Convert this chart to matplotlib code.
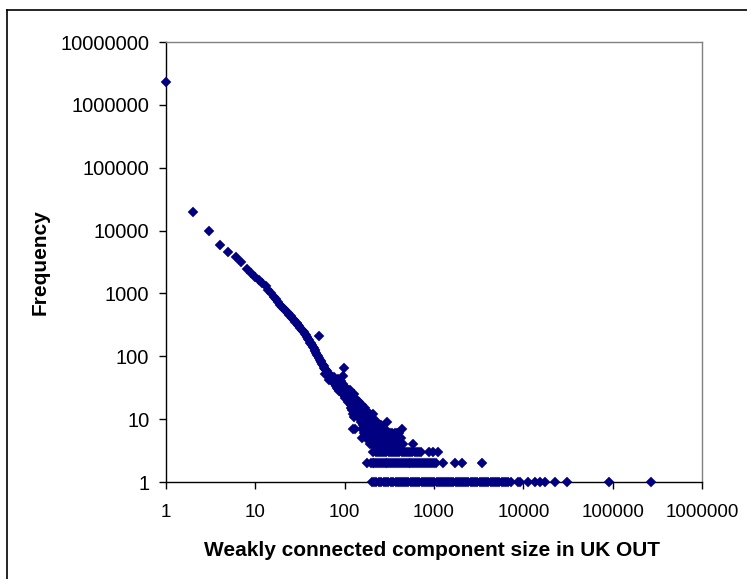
import matplotlib
matplotlib.use("Agg")
import matplotlib.pyplot as plt
from matplotlib.lines import Line2D

# component sizes 1..130, one frequency each
curve_freq = [
    2300000, 20000, 10000, 6000, 4500, 3800, 3200, 2450, 2100, 1850,
    1650, 1450, 1300, 1150, 1000, 880, 820, 720, 660, 610,
    560, 520, 490, 450, 430, 400, 375, 355, 335, 320,
    300, 285, 265, 255, 240, 230, 215, 205, 190, 180,
    165, 160, 150, 140, 135, 126, 120, 112, 105, 100,
    95, 212, 88, 84, 80, 76, 72, 69, 66, 53,
    63, 60, 58, 56, 54, 42, 52, 50, 48, 46,
    45, 44, 42, 40, 47, 38, 37, 36, 35, 34,
    40, 31, 35, 30, 44, 33, 28, 38, 30, 35,
    27, 41, 29, 26, 36, 30, 49, 66, 24, 28,
    32, 22, 27, 25, 30, 21, 26, 24, 19, 28,
    23, 20, 26, 18, 22, 29, 17, 21, 15, 19,
    14, 18, 16, 12, 20, 13, 17, 11, 15, 16,
]
curve_size = list(range(1, len(curve_freq) + 1))

# scattered blob between ~110 and ~450
blob_size = [112, 118, 124, 108, 115, 121, 128,
             125, 131, 136, 140, 146, 133, 141, 150, 158,
             140, 150, 162, 170, 135, 145, 155, 165, 180, 128, 138, 148, 157, 168,
             142, 152, 160, 175, 190, 205, 147, 157, 172, 185, 200,
             149, 160, 170, 182, 196, 210, 152, 165, 178, 190, 205, 220, 232, 297,
             160, 172, 185, 198, 212, 226, 240, 252,
             155, 168, 180, 195, 210, 225, 240, 256, 270, 282, 435,
             165, 178, 192, 206, 220, 235, 250, 266, 283, 300, 320, 340, 362, 385, 405,
             158, 172, 186, 200, 215, 230, 246, 262, 280, 298, 318, 338, 360, 383, 408, 425]
blob_freq = [22, 22, 22, 25, 25, 25, 25,
             7, 7, 20, 19, 19, 17, 17, 17, 17,
             15, 15, 15, 15, 13, 13, 13, 13, 13, 14, 14, 14, 14, 14,
             12, 12, 12, 12, 12, 12, 11, 11, 11, 11, 11,
             10, 10, 10, 10, 10, 10, 9, 9, 9, 9, 9, 9, 9, 9,
             8, 8, 8, 8, 8, 8, 8, 8,
             7, 7, 7, 7, 7, 7, 7, 7, 7, 7, 7,
             6, 6, 6, 6, 6, 6, 6, 6, 6, 6, 6, 6, 6, 6, 6,
             5, 5, 5, 5, 5, 5, 5, 5, 5, 5, 5, 5, 5, 5, 5, 5]

# horizontal rows of sizes seen with frequency 4, 3, 2 and 1
row4_size = [192, 203, 215, 228, 241, 255, 270, 286, 303, 321, 340, 360, 381,
             404, 428, 452, 580]
row3_size = [210, 222, 235, 248, 262, 277, 293, 310, 328, 347, 367, 388, 410,
             434, 459, 485, 513, 543, 574, 607, 642, 680, 720, 870, 970, 1120]
row2_size = [177, 196, 205, 214, 225, 236, 248, 260, 273, 287, 301, 316, 332,
             349, 367, 386, 405, 425, 447, 470, 494, 519, 545, 573, 602, 633,
             665, 699, 735, 772, 812, 853, 897, 942, 990, 1040, 1275, 1740,
             2040, 3430]
row1_size = [200, 212, 226, 241, 258, 273, 290, 309, 331, 348, 372, 391, 416,
             438, 467, 492, 518, 553, 581, 613, 652, 688, 731, 772, 812, 862,
             908, 962, 1012, 1068, 1133, 1187, 1262, 1328, 1403, 1478, 1562,
             1648, 1742, 1845, 1948, 2062, 2178, 2305, 2428, 2574, 2716, 2883,
             3046, 3231, 3418, 3624, 3826, 4063, 4297, 4551, 4818, 5102, 5396,
             5724, 6047, 6402, 6811, 7210, 8700, 9200, 11400, 13500, 15400,
             17500, 22800, 30700, 90000, 272000]

x_ticks = [1, 10, 100, 1000, 10000, 100000, 1000000]
y_ticks = [1, 10, 100, 1000, 10000, 100000, 1000000, 10000000]

plt.rcParams['font.family'] = ['Liberation Sans', 'DejaVu Sans']

W, H = 747, 579
fig = plt.figure(figsize=(W / 100, H / 100), dpi=100)
ax = fig.add_axes([166 / W, 1 - 482 / H, (702 - 166) / W, (482 - 42) / H])

navy = '#000080'
sizes = (curve_size + blob_size + row4_size + row3_size + row2_size + row1_size)
freqs = (curve_freq + blob_freq + [4] * len(row4_size) + [3] * len(row3_size)
         + [2] * len(row2_size) + [1] * len(row1_size))
ax.plot(sizes, freqs, linestyle='none', marker='D', markersize=4.9,
        markerfacecolor=navy, markeredgecolor=navy, markeredgewidth=0.3,
        clip_on=False, zorder=3)

ax.set_xscale('log')
ax.set_yscale('log')
ax.set_xlim(1, 1000000)
ax.set_ylim(1, 10000000)
ax.set_xticks(x_ticks)
ax.set_xticklabels([str(v) for v in x_ticks])
ax.set_yticks(y_ticks)
ax.set_yticklabels([str(v) for v in y_ticks])
ax.minorticks_off()
ax.tick_params(direction='out', length=5, width=1, colors='black')
ax.tick_params(axis='y', pad=7, labelsize=14.5)
ax.tick_params(axis='x', pad=11, labelsize=13.5)

ax.spines['left'].set_color('black')
ax.spines['bottom'].set_color('black')
ax.spines['top'].set_color('#808080')
ax.spines['right'].set_color('#808080')
for s in ax.spines.values():
    s.set_linewidth(1.0)

fig.text(40 / W, 1 - 262 / H, 'Frequency', rotation=90, ha='center',
         va='center', fontsize=15, fontweight='bold')
fig.text(432 / W, 1 - 551 / H, 'Weakly connected component size in UK OUT',
         ha='center', va='center', fontsize=15, fontweight='bold')

# outer chart border (only top and left fall inside the picture)
fig.add_artist(Line2D([7 / W, 1], [1 - 10 / H, 1 - 10 / H], color='black',
                      linewidth=1.2, transform=fig.transFigure))
fig.add_artist(Line2D([7 / W, 7 / W], [0, 1 - 10 / H], color='black',
                      linewidth=1.2, transform=fig.transFigure))

fig.savefig('out.png', dpi=100)
